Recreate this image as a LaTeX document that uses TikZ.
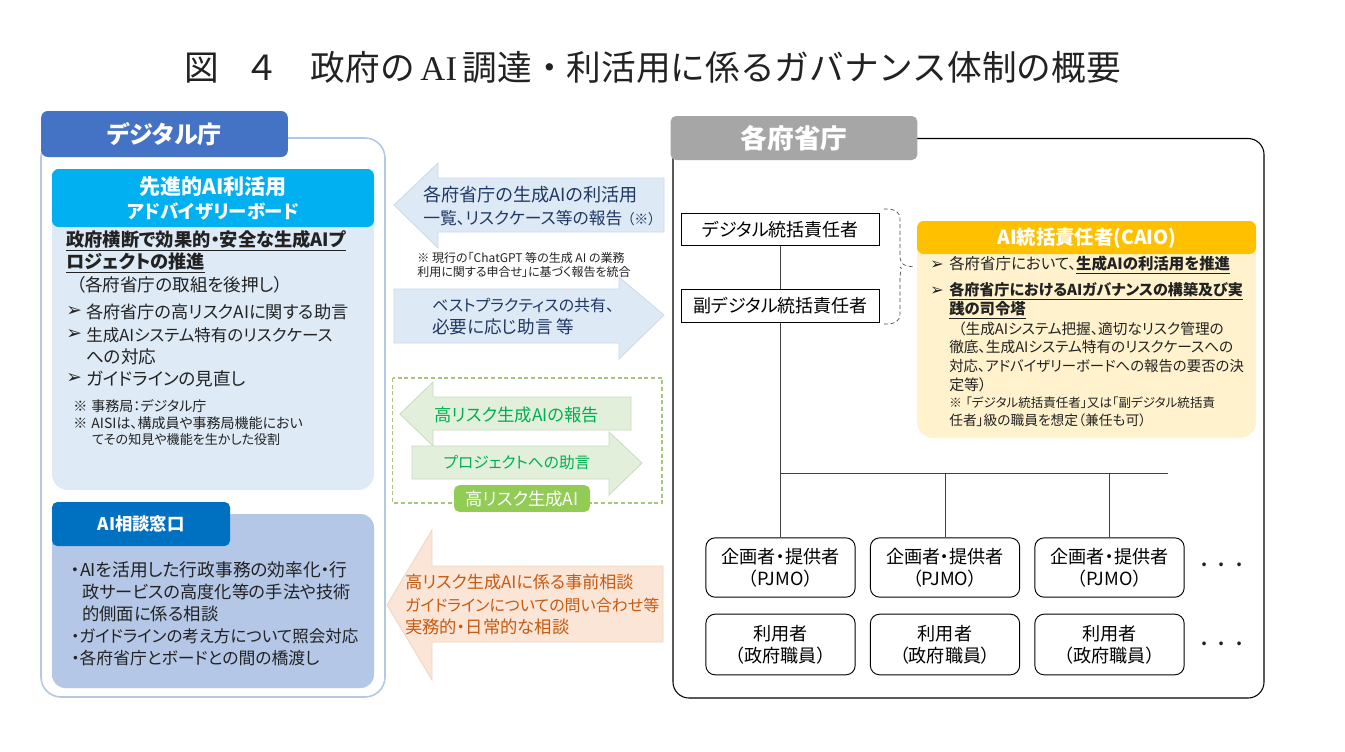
\documentclass[tikz,border=0pt]{standalone}
\usepackage{fontspec}
\setmainfont{Noto Sans CJK JP}[RawFeature={+palt}]
\newfontfamily\titlefont{Noto Sans CJK JP}
\newfontfamily\arrowfont{DejaVu Sans}
\newfontfamily\latinserif{Liberation Serif}
\newcommand\fsz[1]{\fontsize{#1}{#1}\selectfont}
\newcommand\arw{{\arrowfont ➢}}
\definecolor{tabblue}{HTML}{4472C4}
\definecolor{panelline}{HTML}{B4C7E7}
\definecolor{advfill}{HTML}{DEEAF6}
\definecolor{advhead}{HTML}{00B0F0}
\definecolor{consfill}{HTML}{B4C7E7}
\definecolor{constab}{HTML}{0070C0}
\definecolor{arrowblue}{HTML}{DEE9F6}
\definecolor{arrowedge}{HTML}{CBD9EB}
\definecolor{navy}{HTML}{1F3864}
\definecolor{greenarrow}{HTML}{E2EFDA}
\definecolor{greenedge}{HTML}{C9DCBC}
\definecolor{greentext}{HTML}{00B050}
\definecolor{greenbox}{HTML}{92CC55}
\definecolor{dashgreen}{HTML}{A9C47F}
\definecolor{orangefill}{HTML}{FBE5D6}
\definecolor{orangeedge}{HTML}{F0D5C2}
\definecolor{orangetext}{HTML}{C55A11}
\definecolor{graytab}{HTML}{A6A6A6}
\definecolor{caiofill}{HTML}{FFF2CC}
\definecolor{caiohead}{HTML}{FFC000}
\definecolor{txt}{HTML}{222222}
\tikzset{
  lbl/.style={inner sep=0pt,anchor=west,text=txt},
  ctr/.style={inner sep=0pt,anchor=center},
  rolebox/.style={draw=black,line width=0.7pt,fill=white,inner sep=0pt,minimum width=149pt,minimum height=24.5pt,font=\fsz{13.5}},
  staffbox/.style={draw=black,line width=0.7pt,fill=white,rounded corners=7pt,inner sep=0pt,minimum width=112pt,align=center,font=\fontsize{13.6}{16.5}\selectfont},
  conn/.style={draw=black!75,line width=0.6pt},
}
\begin{document}
\begin{tikzpicture}[x=0.75pt,y=-0.75pt]
\useasboundingbox (0,0) rectangle (1345,751);
\fill[white] (0,0) rectangle (1345,751);
% title
\node[ctr,text=txt] (title) at (652.5,67) {\titlefont\fsz{26}図\hspace{0.75em}４\hspace{0.9em}政府の{\latinserif\,AI\,}調達・利活用に係るガバナンス体制の概要};
% left panel
\draw[panelline,line width=1.2pt,fill=white,rounded corners=15pt] (41,138) rectangle (385,697);
\node[fill=tabblue,rounded corners=5pt,minimum width=185pt,minimum height=34.5pt,inner sep=0pt,text=white,font=\fsz{18}\bfseries] (dtab) at (164.5,134) {デジタル庁};
\fill[advfill,rounded corners=12pt] (52,175) rectangle (374,490);
\fill[advhead,rounded corners=5pt] (52,169) rectangle (374,227);
\node[ctr,text=white,align=center,font=\fontsize{15}{18}\selectfont\bfseries] (advt) at (213,198) {\fsz{15.8}先進的AI利活用\\\fsz{13.8}アドバイザリーボード};
\node[lbl,font=\fsz{13.7}\bfseries] (a1) at (66,241) {\underline{政府横断で効果的・安全な生成AIプ}};
\node[lbl,font=\fsz{13.7}\bfseries] (a2) at (66,263) {\underline{ロジェクトの推進}};
\node[lbl,font=\fsz{13.2}] (a3) at (76,285) {（各府省庁の取組を後押し）};
\node[lbl,font=\fsz{14}] (b1) at (66,312) {\arw};
\node[lbl,font=\fsz{12.9}] (a4) at (86,312) {各府省庁の高リスクAIに関する助言};
\node[lbl,font=\fsz{14}] (b2) at (66,335) {\arw};
\node[lbl,font=\fsz{12.4}] (a5) at (86,335) {生成AIシステム特有のリスクケース};
\node[lbl,font=\fsz{13.2}] (a6) at (86,357) {への対応};
\node[lbl,font=\fsz{14}] (b3) at (66,379) {\arw};
\node[lbl,font=\fsz{13.2}] (a7) at (86,379) {ガイドラインの見直し};
\node[lbl,font=\fsz{10.5}] (n1) at (73,406) {※\hspace{0.3em}事務局：デジタル庁};
\node[lbl,font=\fsz{10.5}] (n2) at (73,423) {※\hspace{0.3em}AISIは、構成員や事務局機能におい};
\node[lbl,font=\fsz{9.8}] (n3) at (92,440) {てその知見や機能を生かした役割};
% consultation
\fill[consfill,rounded corners=10pt] (52,514) rectangle (374,688);
\node[fill=constab,rounded corners=4pt,minimum width=133.5pt,minimum height=33pt,inner sep=0pt,text=white,font=\fsz{13}\bfseries] (ctab) at (141,524) {AI相談窓口};
\node[lbl,font=\fsz{13.3}] (c1) at (71,570) {・AIを活用した行政事務の効率化・行};
\node[lbl,font=\fsz{12.9}] (c2) at (82,592) {政サービスの高度化等の手法や技術};
\node[lbl,font=\fsz{13}] (c3) at (82,614) {的側面に係る相談};
\node[lbl,font=\fsz{12.4}] (c4) at (71,636) {・ガイドラインの考え方について照会対応};
\node[lbl,font=\fsz{12.6}] (c5) at (71,658) {・各府省庁とボードとの間の橋渡し};
% arrows
\draw[arrowedge,fill=arrowblue,line width=0.6pt] (394,205)--(438,163)--(438,178)--(664,178)--(664,232)--(438,232)--(438,248)--cycle;
\node[lbl,text=navy,font=\fsz{13.6}] (r1) at (423,195) {各府省庁の生成AIの利活用};
\node[lbl,text=navy,font=\fsz{12.6}] (r2) at (423,218) {一覧、リスクケース等の報告};
\node[lbl,text=navy,font=\fsz{10.5}] (r3) at (627,219) {（※）};
\node[ctr,font=\fsz{9},text=txt] (s1) at (521,258) {※ 現行の「ChatGPT 等の生成 AI の業務};
\node[ctr,font=\fsz{9},text=txt] (s2) at (524,272) {利用に関する申合せ」に基づく報告を統合};
\draw[arrowedge,fill=arrowblue,line width=0.6pt] (394,289)--(619,289)--(619,277)--(664,315)--(619,359)--(619,343)--(394,343)--cycle;
\node[lbl,text=navy,font=\fsz{12}] (r4) at (432,305) {ベストプラクティスの共有、};
\node[lbl,text=navy,font=\fsz{13.2}] (r5) at (432,327) {必要に応じ助言 等};
\draw[dashgreen,line width=0.9pt,densely dashed] (392.5,378) rectangle (662,503);
\draw[greenedge,fill=greenarrow,line width=0.6pt] (400,414)--(433,382)--(433,397)--(631,397)--(631,430)--(433,430)--(433,446)--cycle;
\node[ctr,text=greentext,font=\fsz{13}] (g1) at (517,415) {高リスク生成AIの報告};
\draw[greenedge,fill=greenarrow,line width=0.6pt] (412,446)--(609,446)--(609,432)--(642,463)--(609,495)--(609,479)--(412,479)--cycle;
\node[ctr,text=greentext,font=\fsz{11.8}] (g2) at (517,463) {プロジェクトへの助言};
\node[fill=greenbox,rounded corners=4pt,minimum width=102pt,minimum height=20pt,inner sep=0pt,text=white,font=\fsz{13}] (g3) at (522,498.5) {高リスク生成AI};
\draw[orangeedge,fill=orangefill,line width=0.6pt] (387,605)--(432,530)--(432,566)--(663,566)--(663,642)--(432,642)--(432,680)--cycle;
\node[lbl,text=orangetext,font=\fsz{12.8}] (o1) at (405,582) {高リスク生成AIに係る事前相談};
\node[lbl,text=orangetext,font=\fsz{12}] (o2) at (405,605) {ガイドラインについての問い合わせ等};
\node[lbl,text=orangetext,font=\fsz{13}] (o3) at (405,627) {実務的・日常的な相談};
% right panel
\draw[black,line width=0.8pt,fill=white,rounded corners=12pt] (673,138.5) rectangle (1264,698);
\node[fill=graytab,rounded corners=4pt,minimum width=185pt,minimum height=33pt,inner sep=0pt,text=white,font=\fsz{20}\bfseries] (mtab) at (794,138) {各府省庁};
\node[rolebox] (dig) at (780.5,229.5) {デジタル統括責任者};
\node[rolebox] (vice) at (780.5,306) {副デジタル統括責任者};
\foreach \idx/\xpos in {1/780.5,2/945,3/1109.5}{
  \node[staffbox,minimum height=44.5pt] (p\idx) at (\xpos,567.5) {企画者・提供者\\（PJMO）};
  \node[staffbox,minimum height=45.5pt] (u\idx) at (\xpos,644.5) {利用者\\（政府職員）};
}
\coordinate (j2) at (945,473);
\coordinate (j3) at (1109.5,473);
\coordinate (jend) at (1168,473);
\coordinate (j1) at (780.5,473);
\draw[conn] (dig.south) -- (vice.north);
\draw[conn] (vice.south) -- (p1.north);
\draw[conn] (j1) -- (jend);
\draw[conn] (j2) -- (p2.north);
\draw[conn] (j3) -- (p3.north);
\node[ctr,font=\fsz{13}\bfseries,text=txt] (dots1) at (1222,565) {.\hspace{0.65em}.\hspace{0.65em}.};
\node[ctr,font=\fsz{13}\bfseries,text=txt] (dots2) at (1222,644) {.\hspace{0.65em}.\hspace{0.65em}.};
% CAIO
\fill[caiofill,rounded corners=12pt] (917,228) rectangle (1256,438);
\fill[caiohead,rounded corners=5pt] (917,221) rectangle (1256,254);
\node[ctr,text=white,font=\fsz{14.5}\bfseries] (ct) at (1087,238) {AI統括責任者(CAIO)};
\draw[black!70,line width=0.5pt,densely dashed] (884,209) .. controls (895,209) and (900,211) .. (900,220) -- (900,255) .. controls (900,264) and (903,266) .. (915,267);
\draw[black!70,line width=0.5pt,densely dashed] (884,324) .. controls (895,324) and (900,322) .. (900,313) -- (900,279) .. controls (900,270) and (903,268) .. (900,267);
\node[lbl,font=\fsz{12}] (cb1) at (930,265) {\arw};
\node[lbl,font=\fsz{11.6}] (k1) at (949,265) {各府省庁において、\textbf{\underline{生成AIの利活用を推進}}};
\node[lbl,font=\fsz{12}] (cb2) at (930,291) {\arw};
\node[lbl,font=\fsz{11.3}\bfseries] (k2) at (949,291) {\underline{各府省庁におけるAIガバナンスの構築及び実}};
\node[lbl,font=\fsz{11.5}\bfseries] (k3) at (949,310) {\underline{践の司令塔}};
\node[lbl,font=\fsz{11}] (k4) at (958,329) {（生成AIシステム把握、適切なリスク管理の};
\node[lbl,font=\fsz{11}] (k5) at (949,347) {徹底、生成AIシステム特有のリスクケースへの};
\node[lbl,font=\fsz{10.8}] (k6) at (949,366) {対応、アドバイザリーボードへの報告の要否の決};
\node[lbl,font=\fsz{11.2}] (k7) at (949,385) {定等）};
\node[lbl,font=\fsz{9.4}] (k8) at (949,403) {※\hspace{0.3em}「デジタル統括責任者」又は「副デジタル統括責};
\node[lbl,font=\fsz{10.3}] (k9) at (949,420) {任者」級の職員を想定（兼任も可）};
\end{tikzpicture}
\end{document}
